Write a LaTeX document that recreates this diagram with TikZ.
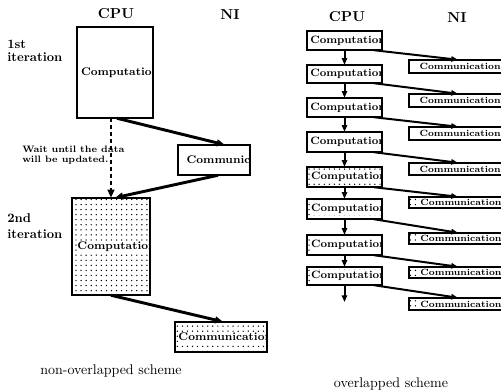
\documentclass[tikz,border=0pt]{standalone}
\usetikzlibrary{arrows.meta,patterns.meta,fit}
\newcommand\mkbox[9]{%
  \node[fit={(#2,#3) (#4,#5)}, inner sep=0pt, #6] (#1) {};
  \begin{scope}
    \clip (#1.south west) rectangle (#1.north east);
    \node[#7, anchor=west] (#1t) at ([xshift=#9]#1.west) {#8};
  \end{scope}
  \draw[boxline] (#1.south west) rectangle (#1.north east);
}
\begin{document}
\begin{tikzpicture}[x=0.75pt,y=-0.75pt,
  boxline/.style={line width=1.4pt},
  plainbox/.style={fill=white},
  dotbox/.style={pattern={Dots[distance=3.8pt,radius=0.55pt]}},
  ltext/.style={font=\fontsize{8.3}{10}\selectfont\bfseries, inner sep=0pt},
  ltextd/.style={ltext, fill=white, inner sep=0.6pt},
  rtext/.style={font=\fontsize{8.0}{10}\selectfont\bfseries, inner sep=0pt},
  rtextd/.style={rtext, fill=white, inner sep=0.6pt},
  ktext/.style={font=\fontsize{6.8}{8}\selectfont\bfseries, inner sep=0pt},
  ktextd/.style={ktext, fill=white, inner sep=0.6pt},
  head/.style={font=\fontsize{10.8}{12}\selectfont\bfseries, inner sep=0pt},
  side/.style={font=\fontsize{9.6}{11}\selectfont\bfseries, inner sep=0pt, anchor=west},
  captxt/.style={font=\fontsize{10.5}{12}\selectfont, inner sep=0pt},
  note/.style={font=\fontsize{7}{7.5}\selectfont\bfseries, inner sep=0pt, anchor=west, align=left},
  arrL/.style={line width=2.2pt, -{Triangle[length=6pt,width=5pt]}},
  dasharr/.style={line width=2.2pt, dash pattern=on 3pt off 2.2pt, -{Triangle[length=6pt,width=5pt]}},
  arrR/.style={line width=1.5pt, -{Triangle[length=5pt,width=4pt]}},
]
\useasboundingbox (0,0) rectangle (501,392);

% headings
\node[head] (cpuL) at (116,14) {CPU};
\node[head] (niL) at (230,15) {NI};
\node[head] (cpuR) at (347,17) {CPU};
\node[head] (niR) at (457,18) {NI};

\node[side] (it1a) at (7,44) {1st};
\node[side] (it1b) at (7,57) {iteration};
\node[side] (it2a) at (7,218) {2nd};
\node[side] (it2b) at (7,234) {iteration};
\node[note] (wait) at (22,155) {Wait until the data\\will be updated.};

\node[captxt] (capL) at (111,371) {non-overlapped scheme};
\node[captxt] (capR) at (391,384) {overlapped scheme};

% left scheme
\mkbox{L1}{77}{27}{153}{118}{plainbox}{ltext}{Computation}{3pt}
\mkbox{LC1}{178}{145}{250}{175}{plainbox}{ltext}{Communication}{6.5pt}
\mkbox{L2}{72}{198}{150}{295}{dotbox}{ltextd}{Computation}{3.5pt}
\mkbox{LC2}{175}{322}{267}{352}{dotbox}{ltextd}{Communication}{2pt}

\draw[arrL] ([xshift=1.5pt]L1.south) -- ([xshift=8pt]LC1.north);
\draw[dasharr] (L1.south -| L2.north) -- (L2.north);
\draw[arrL] ([xshift=3pt]LC1.south) -- ([xshift=3pt]L2.north);
\draw[arrL] (L2.south) -- ([xshift=1.5pt]LC2.north);

% right scheme: computation
\mkbox{R1}{307}{31}{382}{50}{plainbox}{rtext}{Computation}{2.5pt}
\mkbox{R2}{307}{65}{382}{83}{plainbox}{rtext}{Computation}{2.5pt}
\mkbox{R3}{307}{98}{382}{117}{plainbox}{rtext}{Computation}{2.5pt}
\mkbox{R4}{307}{132}{382}{152}{plainbox}{rtext}{Computation}{2.5pt}
\mkbox{R5}{307}{167}{382}{187}{dotbox}{rtextd}{Computation}{2.5pt}
\mkbox{R6}{307}{199}{382}{219}{dotbox}{rtextd}{Computation}{2.5pt}
\mkbox{R7}{307}{235}{382}{255}{dotbox}{rtextd}{Computation}{2.5pt}
\mkbox{R8}{307}{267}{382}{285}{dotbox}{rtextd}{Computation}{2.5pt}

% right scheme: communication
\mkbox{K1}{409}{60}{501.5}{73}{plainbox}{ktext}{Communication}{8pt}
\mkbox{K2}{409}{94}{501.5}{107}{plainbox}{ktext}{Communication}{8pt}
\mkbox{K3}{409}{127}{501.5}{140}{plainbox}{ktext}{Communication}{8pt}
\mkbox{K4}{409}{163}{501.5}{175}{plainbox}{ktext}{Communication}{8pt}
\mkbox{K5}{409}{197}{501.5}{208}{dotbox}{ktextd}{Communication}{8pt}
\mkbox{K6}{409}{233}{501.5}{244}{dotbox}{ktextd}{Communication}{8pt}
\mkbox{K7}{409}{267}{501.5}{278}{dotbox}{ktextd}{Communication}{8pt}
\mkbox{K8}{409}{298}{501.5}{310}{dotbox}{ktextd}{Communication}{8pt}

\coordinate (Rend) at (344.5,302);

\foreach \a/\b in {R1/R2,R2/R3,R3/R4,R4/R5,R5/R6,R6/R7,R7/R8}
  \draw[arrR] (\a.south) -- (\b.north);
\draw[arrR] (R8.south) -- (Rend);

\foreach \i in {1,...,8}
  \draw[arrR] ([xshift=-6pt]R\i.south east) -- ([xshift=2pt]K\i.north);
\end{tikzpicture}
\end{document}
